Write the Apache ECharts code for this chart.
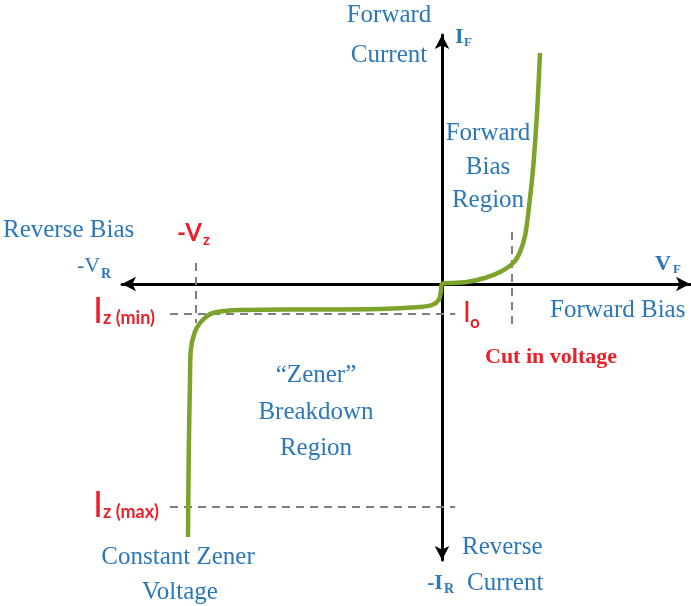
<!DOCTYPE html>
<html>
<head>
<meta charset="utf-8">
<script src="https://cdn.jsdelivr.net/npm/echarts@6/dist/echarts.min.js"></script>
<style>
  html, body { margin: 0; padding: 0; background: #fff; }
  #chart { width: 691px; height: 606px; }
</style>
</head>
<body>
<div id="chart"></div>
<script>
// Zener diode I-V characteristic (schematic units)
var curveV = [-6.35, -6.33, -6.3, -6.28, -6.18, -6.05, -5.9, -5.73, -5.43, -5.05, -3.55, -1.55, -0.55, -0.25, -0.08, -0.03, 0, 0.2, 0.62, 1.07, 1.45, 1.78, 1.95, 2.08, 2.18, 2.28, 2.38, 2.45];
var curveI = [-25.3, -16.6, -9.6, -6.6, -4.8, -3.9, -3.3, -2.9, -2.7, -2.6, -2.55, -2.5, -2.3, -2.1, -1.6, -0.8, 0, 0.1, 0.2, 0.6, 1.2, 2.1, 3.2, 4.9, 7.9, 11.7, 17.4, 23.1];

var izMin = -3.0;
var izMax = -22.3;
var vz = -6.15;
var vCutIn = 1.75;
var dashLeft = -6.8;
var dashRight = 0.33;

var blue = '#2b77b9';
var red = '#e8202a';
var serif = '"Liberation Serif", "DejaVu Serif", serif';
var sans = 'Lato, "DejaVu Sans", sans-serif';

var curveData = curveV.map(function (v, i) { return [v, curveI[i]]; });

function dashed(data) {
    return {
        type: 'line',
        data: data,
        symbol: 'none',
        silent: true,
        z: 1,
        lineStyle: { color: '#7f7f7f', width: 2, type: [8, 6] }
    };
}

function txt(x, y, text, font, color, align) {
    return {
        type: 'text',
        silent: true,
        style: {
            x: x, y: y, text: text, font: font, fill: color,
            align: align || 'left', verticalAlign: 'middle'
        }
    };
}

var labels = [
    txt(389, 15, 'Forward', '25px ' + serif, blue, 'center'),
    txt(389, 55, 'Current', '25px ' + serif, blue, 'center'),
    txt(455, 37, 'I', 'bold 22px ' + serif, blue),
    txt(464, 43, 'F', 'bold 13px ' + serif, blue),
    txt(488, 133, 'Forward', '25px ' + serif, blue, 'center'),
    txt(488, 167, 'Bias', '25px ' + serif, blue, 'center'),
    txt(488, 200, 'Region', '25px ' + serif, blue, 'center'),
    txt(3, 230, 'Reverse Bias', '25px ' + serif, blue),
    txt(77, 266, '-V', '22px ' + serif, blue),
    txt(101, 274, 'R', 'bold 14px ' + serif, blue),
    txt(655, 264, 'V', 'bold 22px ' + serif, blue),
    txt(673, 270, 'F', 'bold 13px ' + serif, blue),
    txt(550, 310, 'Forward Bias', '25px ' + serif, blue),
    txt(316, 375, '\u201cZener\u201d', '25px ' + serif, blue, 'center'),
    txt(316, 412, 'Breakdown', '25px ' + serif, blue, 'center'),
    txt(316, 448, 'Region', '25px ' + serif, blue, 'center'),
    txt(178, 557, 'Constant Zener', '25px ' + serif, blue, 'center'),
    txt(180, 592, 'Voltage', '25px ' + serif, blue, 'center'),
    txt(462, 547, 'Reverse', '25px ' + serif, blue),
    txt(467, 583, 'Current', '25px ' + serif, blue),
    txt(427, 583, '-I', 'bold 22px ' + serif, blue),
    txt(444, 589, 'R', 'bold 14px ' + serif, blue),

    txt(177, 233, '-V', 'bold 24px ' + sans, red),
    txt(203, 240, 'z', 'bold 15px ' + sans, red),
    txt(93, 311, 'I', '36px ' + sans, red),
    txt(103, 318, 'z (min)', 'bold 18px ' + sans, red),
    txt(93, 505, 'I', '36px ' + sans, red),
    txt(103, 512, 'z (max)', 'bold 18px ' + sans, red),
    txt(463, 313, 'I', '28px ' + sans, red),
    txt(470, 323, 'o', 'bold 17px ' + sans, red),
    txt(485, 357, 'Cut in voltage', 'bold 22px ' + serif, red)
];

var axisLineStyle = {
    onZero: true,
    symbol: ['arrow', 'arrow'],
    symbolSize: [11, 14],
    lineStyle: { color: '#000', width: 3 }
};

var chart = echarts.init(document.getElementById('chart'));
chart.setOption({
    animation: false,
    backgroundColor: '#fff',
    grid: { left: 122, right: 1, top: 35, bottom: 46 },
    xAxis: {
        type: 'value', min: -8, max: 6.2,
        axisLine: axisLineStyle,
        axisTick: { show: false }, axisLabel: { show: false }, splitLine: { show: false }
    },
    yAxis: {
        type: 'value', min: -27.6, max: 24.9,
        axisLine: axisLineStyle,
        axisTick: { show: false }, axisLabel: { show: false }, splitLine: { show: false }
    },
    graphic: labels,
    series: [
        dashed([[dashLeft, izMin], [dashRight, izMin]]),
        dashed([[dashLeft, izMax], [dashRight, izMax]]),
        dashed([[vz, 2.1], [vz, -3.9]]),
        dashed([[vCutIn, 5.2], [vCutIn, -4.6]]),
        {
            type: 'line',
            data: curveData,
            symbol: 'none',
            smooth: 0.3,
            z: 3,
            lineStyle: { color: '#7ca32a', width: 4.5 }
        }
    ]
});
</script>
</body>
</html>
